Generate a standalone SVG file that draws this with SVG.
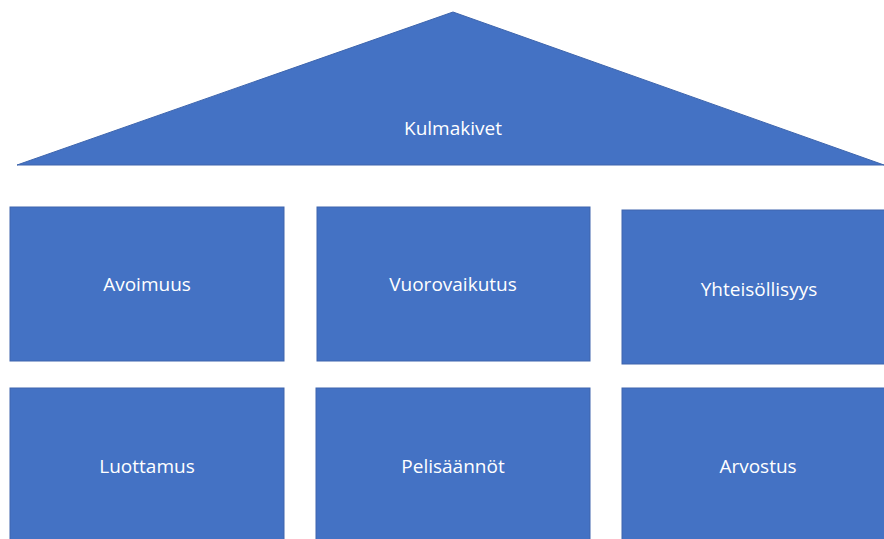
<svg xmlns="http://www.w3.org/2000/svg" width="884" height="539" viewBox="0 0 884 539">
<style>
.s{fill:#4472C4;stroke:#3E65AD;stroke-width:1}
.t{fill:#FFFFFF;font-family:"Open Sans","Noto Sans","Liberation Sans",sans-serif;font-size:19px;text-anchor:middle;dominant-baseline:central}
</style>
<rect width="884" height="539" fill="#FFFFFF"/>
<g id="roof"><polygon class="s" points="453,12 884,165 17,165"/><text class="t" x="453" y="128">Kulmakivet</text></g>
<g id="avoimuus"><rect class="s" x="10" y="207" width="274" height="154"/><text class="t" x="147" y="284">Avoimuus</text></g>
<g id="vuorovaikutus"><rect class="s" x="317" y="207" width="273" height="154"/><text class="t" x="453" y="284">Vuorovaikutus</text></g>
<g id="yhteisollisyys"><rect class="s" x="622" y="210" width="266" height="154"/><text class="t" x="759" y="289">Yhteisöllisyys</text></g>
<g id="luottamus"><rect class="s" x="10" y="388" width="274" height="160"/><text class="t" x="147" y="466">Luottamus</text></g>
<g id="pelisaannot"><rect class="s" x="316" y="388" width="274" height="160"/><text class="t" x="453" y="466">Pelisäännöt</text></g>
<g id="arvostus"><rect class="s" x="622" y="388" width="266" height="160"/><text class="t" x="758" y="466">Arvostus</text></g>
<g id="connectors"/>
</svg>
